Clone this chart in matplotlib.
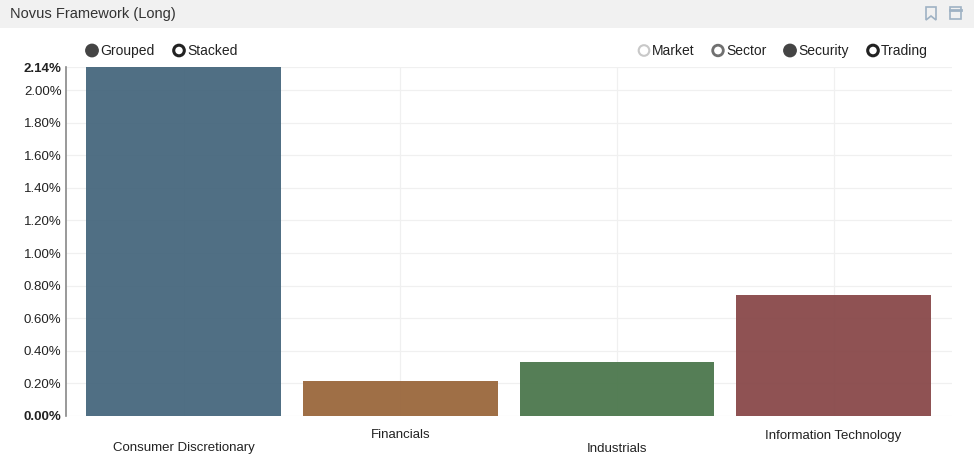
import matplotlib
matplotlib.use("Agg")
import matplotlib.pyplot as plt
from matplotlib.patches import Rectangle, Circle, Polygon
from matplotlib.ticker import FuncFormatter

plt.rcParams['font.family'] = ['Liberation Sans', 'DejaVu Sans']

categories = ["Consumer Discretionary", "Financials", "Industrials", "Information Technology"]
values = [2.14, 0.215, 0.332, 0.743]
colors = ["#4a6a80", "#9c6a40", "#4f7a50", "#8b4c4d"]
yticks = [0.0, 0.2, 0.4, 0.6, 0.8, 1.0, 1.2, 1.4, 1.6, 1.8, 2.0]
ymax = 2.14
title = "Novus Framework (Long)"
left_options = ["Grouped", "Stacked"]
right_options = ["Market", "Sector", "Security", "Trading"]

W, H = 974, 454
fig = plt.figure(figsize=(W / 100, H / 100), dpi=100)
fig.patch.set_facecolor("white")

ov = fig.add_axes([0, 0, 1, 1])
ov.set_xlim(0, W)
ov.set_ylim(H, 0)
ov.axis("off")
ov.add_patch(Rectangle((0, 0), W, 27.5, facecolor="#f1f1f1", edgecolor="none"))
ov.text(10, 14, title, fontsize=10.5, color="#333333", va="center", ha="left")
ov.add_patch(Polygon([(926, 7), (936, 7), (936, 20), (931, 16), (926, 20)], closed=True,
                     facecolor="none", edgecolor="#9fb2c4", lw=1.2))
ov.add_patch(Rectangle((950, 7), 11, 12, facecolor="none", edgecolor="#9fb2c4", lw=1.2))
ov.plot([950, 961], [9.5, 9.5], color="#9fb2c4", lw=2)

def radio(x, label, style):
    y = 50.5
    if style == "filled":
        ov.add_patch(Circle((x, y), 6.2, facecolor="#444444", edgecolor="#444444", lw=1))
    elif style == "light":
        ov.add_patch(Circle((x, y), 5.3, facecolor="white", edgecolor="#c8c8c8", lw=1.5))
    elif style == "gray":
        ov.add_patch(Circle((x, y), 5.3, facecolor="white", edgecolor="#707070", lw=2.0))
    else:
        ov.add_patch(Circle((x, y), 5.3, facecolor="white", edgecolor="#222222", lw=2.2))
    ov.text(x + 8, y + 4.5, label, fontsize=10, color="#222222", va="baseline", ha="left")

radio(92, left_options[0], "filled")
radio(179, left_options[1], "dark")
radio(644, right_options[0], "light")
radio(718, right_options[1], "gray")
radio(790, right_options[2], "filled")
radio(873, right_options[3], "dark")

ax = fig.add_axes([65.7 / W, 1 - 416 / H, (952 - 65.7) / W, (416 - 67.25) / H])
x = list(range(len(categories)))
ax.bar(x, values, width=0.9, color=colors, alpha=0.97, zorder=3)
ax.set_xlim(-0.546, 3.547)
ax.set_ylim(0, ymax)

ticks = yticks + [ymax]
ax.set_yticks(ticks)
ax.yaxis.set_major_formatter(FuncFormatter(lambda v, p: f"{v:.2f}%"))
for lbl, t in zip(ax.get_yticklabels(), ticks):
    if t in (0.0, ymax):
        lbl.set_fontweight("bold")
ax.tick_params(axis="y", labelsize=9.5, length=0, pad=3, colors="#222222")
ax.set_xticks(x)
ax.set_xticklabels([])
ax.tick_params(axis="x", length=0)
for i, c in enumerate(categories):
    ypix = 451.5 if i % 2 == 0 else 438.5
    ov.text(184 + 216.5 * i, ypix, c, fontsize=9.5, color="#222222", ha="center", va="baseline")

ax.grid(True, color="#f0f0f0", lw=0.9, zorder=0)
for s in ["top", "right", "bottom"]:
    ax.spines[s].set_visible(False)
ax.spines["left"].set_color("#888888")
ax.spines["left"].set_linewidth(1.2)
ax.set_facecolor("none")

fig.savefig("out.png", dpi=100)
